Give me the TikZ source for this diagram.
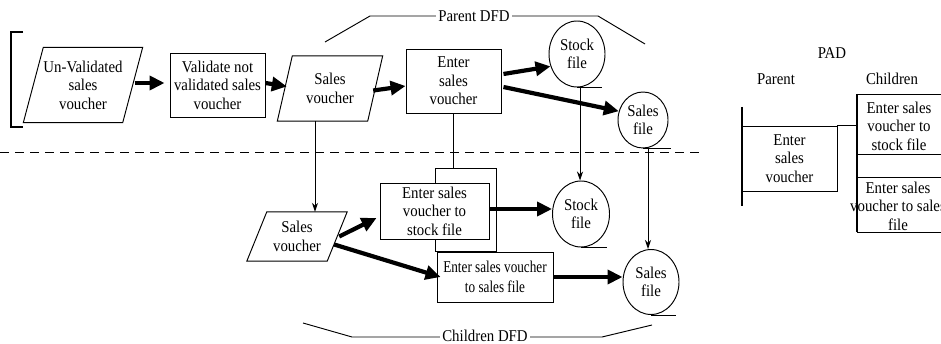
\documentclass[tikz,border=0pt]{standalone}
\usepackage{fontspec}
\setmainfont{Liberation Serif}[FakeStretch=0.9]
\newfontfamily\tightserif{Liberation Serif}[FakeStretch=0.8]
\usetikzlibrary{arrows.meta,shapes.geometric}

% outline of a slanted data box around a rectangular node (#1 = node, #2 = half slant)
\newcommand\slantoutline[2]{%
  \draw[edge] ([xshift=-#2]#1.south west) -- ([xshift=-#2]#1.south east)
    -- ([xshift=#2]#1.north east) -- ([xshift=#2]#1.north west) -- cycle;}

\begin{document}
\begin{tikzpicture}[x=1pt,y=-1pt,
  lbl/.style={font=\fontsize{16.5}{18.5}\selectfont, align=center, inner sep=0pt},
  edge/.style={line width=0.95pt},
  procbox/.style={lbl, draw, edge, fill=white},
  databox/.style={lbl},
  store/.style={lbl, ellipse, draw, edge},
  fat/.style={line width=4.2pt, -{Triangle[length=15pt,width=14pt]}},
  slim/.style={line width=0.9pt, -{Stealth[length=9pt,width=6pt]}},
  bar/.style={line width=2pt}]
\useasboundingbox (0,0) rectangle (941,344);

% ---------------- parent level ----------------
\draw[line width=1.6pt] (23,32) -- (11,32) -- (11,127) -- (23,127);

\node[databox, minimum width=99, minimum height=75] (uv) at (83,85)
  {Un-Validated\\sales\\voucher};
\slantoutline{uv}{10pt}
\node[procbox, minimum width=95, minimum height=64] (val) at (217.5,85)
  {Validate not\\validated sales\\voucher};
\node[databox, minimum width=90, minimum height=65] (sv) at (330,88.5)
  {Sales\\voucher};
\slantoutline{sv}{7.5pt}
\node[procbox, minimum width=95, minimum height=64] (esv) at (453.5,81)
  {Enter\\sales\\voucher};
\node[store, minimum width=56, minimum height=66] (sf1) at (577,54) {Stock\\file};
\node[store, minimum width=50, minimum height=56] (sf2) at (643,120) {Sales\\file};
\draw[edge] (sf1.south) -- ++(25,0);
\draw[edge] (sf2.south) -- ++(28,0);

\draw[fat] ([xshift=2pt,yshift=2pt]uv.east) -- ([xshift=-5pt,yshift=2pt]val.west);
\draw[fat] ([yshift=2pt]val.east) -- ([xshift=2pt,yshift=2pt]sv.west);
\draw[fat] ([xshift=-2pt,yshift=-2pt]sv.east) -- ([yshift=-5pt]esv.west);
\draw[fat] ([xshift=2pt,yshift=7pt]esv.east) -- (sf1.205);
\draw[fat] ([xshift=2pt,yshift=-6pt]esv.east) -- (sf2.160);

% parent brace
\draw[edge] (325,42) -- (370,16) -- (598,16) -- (645,44);
\node[lbl, fill=white, inner xsep=2pt] (ptitle) at (474,16) {Parent DFD};

% level divider
\draw[edge, dash pattern=on 9pt off 6pt] (0,152) -- (700,152);

% ---------------- child level ----------------
\node[draw, edge, minimum width=61, minimum height=83] (grp) at (465.5,209.5) {};
\node[databox, minimum width=80, minimum height=49] (csv) at (297,236.5)
  {Sales\\voucher};
\slantoutline{csv}{10pt}
\node[procbox, minimum width=109, minimum height=56] (cb1) at (434.5,211)
  {Enter sales\\voucher to\\stock file};
\node[procbox, minimum width=116, minimum height=50,
      font=\tightserif\fontsize{16.5}{20}\selectfont] (cb2) at (495,277)
  {Enter sales voucher\\to sales file};
\node[store, minimum width=57, minimum height=66] (csf1) at (581,214) {Stock\\file};
\node[store, minimum width=56, minimum height=65] (csf2) at (651,282) {Sales\\file};
\draw[edge] (csf1.south) -- ++(26,0);
\draw[edge] (csf2.south) -- ++(25,0);

\draw[fat] ([xshift=2pt]csv.east) -- ([xshift=-3pt,yshift=-7pt]cb1.west);
\draw[fat] ([xshift=-3pt,yshift=-8pt]csv.east) -- ([xshift=4pt]cb2.west);
\draw[fat] ([yshift=2pt]cb1.east) -- ([yshift=2pt]cb1.east -| csf1.west);
\draw[fat] (cb2.east) -- (cb2.east -| csf2.west);

% links from parent elements to their children
\draw[slim] ([xshift=-15pt]sv.south) -- ([xshift=-15pt]sv.south |- csv.north);
\draw[edge] (esv.south) -- (esv.south |- grp.north);
\draw[slim] ([xshift=3pt]sf1.south) -- ([xshift=3pt]sf1.south |- csf1.north);
\draw[slim] ([xshift=5pt]sf2.south) -- ([xshift=5pt]sf2.south |- csf2.north);

% child brace
\draw[edge] (303,323) -- (352,337) -- (602,337) -- (652,325);
\node[lbl, fill=white, inner xsep=2pt] (ctitle) at (485,336) {Children DFD};

% ---------------- PAD ----------------
\node[lbl] (padt) at (832,53) {PAD};
\node[lbl] (part) at (776,79) {Parent};
\node[lbl] (cht) at (892,79) {Children};

\draw[bar] (742,107) -- (742,206);
\node[procbox, minimum width=95, minimum height=65] (pbox) at (789.5,158.5)
  {Enter\\sales\\voucher};
\coordinate (ctop) at (857,94);
\coordinate (cbot) at (857,232);
\draw[bar] (ctop) -- (cbot);
\draw[edge] (ctop) -- ++(90,0);
\draw[edge] (857,154) -- ++(90,0);
\draw[edge] (857,177) -- ++(90,0);
\draw[edge] (cbot) -- ++(90,0);
\draw[edge] (pbox.north east) -- (pbox.north east -| ctop);
\node[lbl] (c1) at (899,126) {Enter sales\\voucher to\\stock file};
\node[lbl] (c2) at (898,206) {Enter sales\\voucher to sales\\file};
\end{tikzpicture}
\end{document}
